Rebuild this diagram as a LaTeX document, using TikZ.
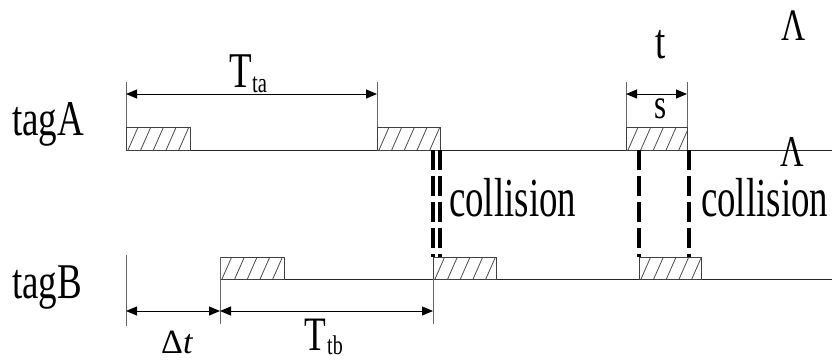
\documentclass[tikz,border=0pt]{standalone}
\usepackage{fontspec}
\setmainfont{Liberation Serif}
\newfontfamily\tnrA[FakeStretch=0.74]{Liberation Serif}
\newfontfamily\tnrB[FakeStretch=0.67]{Liberation Serif}
\usetikzlibrary{arrows.meta}
\newcommand\slotbox[4]{%
  \begin{scope}
    \clip (#1,#2) rectangle (#3,#4);
    \foreach \k in {-1,...,5}{\draw[hatch] ({#1+2+\k*12.7},#4) -- ++(11,-25);}
  \end{scope}
  \draw[boxline] (#1,#2) rectangle (#3,#4);}
\begin{document}
\begin{tikzpicture}[x=1pt,y=-1pt,
  axis/.style={line width=1pt,black!85},
  tickline/.style={line width=0.8pt,black!60},
  hatch/.style={line width=0.8pt,black!70},
  boxline/.style={line width=0.9pt,black!75},
  dim/.style={line width=1pt,{Triangle[length=11pt,width=9pt]}-{Triangle[length=11pt,width=9pt]}},
  coll/.style={line width=3.2pt,dash pattern=on 20pt off 6pt},
  lbl/.style={inner sep=0pt,anchor=base west}]
\useasboundingbox (0,0) rectangle (833,362);
% coordinates
\coordinate (A0) at (126,150); \coordinate (Aend) at (832,150);
\coordinate (B0) at (220,279); \coordinate (Bend) at (832,279);
% time lines
\draw[axis] (A0) -- (Aend);
\draw[axis] (B0) -- (Bend);
% slots
\slotbox{126}{127}{190}{150}
\slotbox{377}{127}{440}{150}
\slotbox{626}{127}{687}{150}
\slotbox{220}{257}{284}{279}
\slotbox{433}{257}{496}{279}
\slotbox{639}{257}{701}{279}
% dimension ticks (top)
\coordinate (ta1t) at (126,82); \coordinate (ta1b) at (126,127);
\coordinate (ta2t) at (377,82); \coordinate (ta2b) at (377,127);
\coordinate (s1t) at (626,82); \coordinate (s1b) at (626,127);
\coordinate (s2t) at (687,82); \coordinate (s2b) at (687,127);
\draw[tickline] (ta1t) -- (ta1b); \draw[tickline] (ta2t) -- (ta2b);
\draw[tickline] (s1t) -- (s1b); \draw[tickline] (s2t) -- (s2b);
\coordinate (ta1) at (126,94); \coordinate (ta2) at (377,94);
\coordinate (s1) at (626,94); \coordinate (s2) at (687,94);
\draw[dim] (ta1) -- (ta2);
\draw[dim] (s1) -- (s2);
% dimension ticks (bottom)
\coordinate (b1t) at (126,255); \coordinate (b1b) at (126,326);
\coordinate (b2t) at (220,257); \coordinate (b2b) at (220,324);
\coordinate (b3t) at (433,279); \coordinate (b3b) at (433,324);
\draw[tickline] (b1t) -- (b1b); \draw[tickline] (b2t) -- (b2b); \draw[tickline] (b3t) -- (b3b);
\coordinate (d1) at (126,311); \coordinate (d2) at (220,311); \coordinate (d3) at (433,311);
\draw[dim] (d1) -- (d2);
\draw[dim] (d2) -- (d3);
% collisions
\coordinate (c1a) at (433,150); \coordinate (c1b) at (433,257);
\coordinate (c2a) at (440,150); \coordinate (c2b) at (440,257);
\coordinate (c3a) at (639,150); \coordinate (c3b) at (639,257);
\coordinate (c4a) at (689,150); \coordinate (c4b) at (689,257);
\draw[coll] (c1a) -- (c1b); \draw[coll] (c2a) -- (c2b);
\draw[coll] (c3a) -- (c3b); \draw[coll] (c4a) -- (c4b);
% labels
\node[lbl] (tagA) at (12,135) {\tnrA\fontsize{50}{54}\selectfont tagA};
\node[lbl] (tagB) at (12,298) {\tnrA\fontsize{50}{54}\selectfont tagB};
\node[lbl] (Tta) at (229,87) {\tnrA\fontsize{50}{54}\selectfont T};
\node[lbl] (Ttasub) at (252,92) {\tnrA\fontsize{28}{30}\selectfont ta};
\node[lbl] (tlab) at (655,58) {\tnrA\fontsize{50}{54}\selectfont t};
\node[lbl] (slab) at (654,118) {\tnrA\fontsize{42}{44}\selectfont s};
\node[lbl] (Lam1) at (781,40) {\tnrA\fontsize{45}{50}\selectfont Λ};
\node[lbl] (Lam2) at (780,166) {\tnrA\fontsize{44}{50}\selectfont Λ};
\node[lbl] (coll1) at (449,216) {\tnrB\fontsize{55}{60}\selectfont collision};
\node[lbl] (coll2) at (701,216) {\tnrB\fontsize{55}{60}\selectfont collision};
\node[lbl] (dt) at (161,353) {\fontsize{34}{38}\selectfont Δ\textit{t}};
\node[lbl] (Ttb) at (304,350) {\tnrA\fontsize{48}{54}\selectfont T};
\node[lbl] (Ttbsub) at (327,354) {\tnrA\fontsize{27}{30}\selectfont tb};
\end{tikzpicture}
\end{document}
